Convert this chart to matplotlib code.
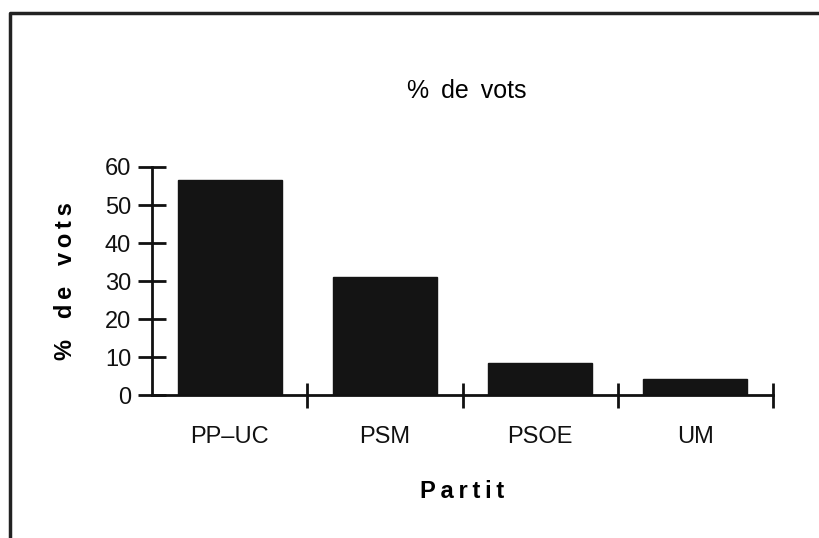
import matplotlib.pyplot as plt
from matplotlib.lines import Line2D

partits = ['PP–UC', 'PSM', 'PSOE', 'UM']
vots = [56.6, 31.0, 8.5, 4.3]
y_ticks = [0, 10, 20, 30, 40, 50, 60]

plt.rcParams['font.family'] = ['Liberation Sans', 'DejaVu Sans']

W, H = 819, 538
fig = plt.figure(figsize=(W / 100, H / 100), dpi=100)
ax = fig.add_axes([152 / W, 143 / H, 621 / W, 228 / H])

x = range(len(partits))
ax.bar(x, vots, width=0.67, color='#141414', edgecolor='#141414')

ax.set_xlim(-0.5, len(partits) - 0.5)
ax.set_ylim(0, 60)
ax.set_yticks(y_ticks)
ax.set_xticks(list(x))
ax.set_xticklabels(partits, fontsize=17)
ax.set_xticks([i + 0.5 for i in x], minor=True)

for s in ['top', 'right']:
    ax.spines[s].set_visible(False)
for s in ['left', 'bottom']:
    ax.spines[s].set_linewidth(2)
    ax.spines[s].set_color('#111')

ax.tick_params(axis='y', direction='inout', length=20, width=2, labelsize=17, pad=5, colors='#111')
ax.tick_params(axis='x', which='major', length=0, pad=22, colors='#111')
ax.tick_params(axis='x', which='minor', direction='inout', length=18, width=2, colors='#111')

sp = '\u2009'
ax.set_ylabel(sp.join('% de vots').replace(' ', ' \u2009'), fontsize=17, fontweight='bold', labelpad=20)
ax.set_xlabel(sp.join('Partit'), fontsize=17, fontweight='bold', labelpad=23)

fig.text(467 / W, 1 - 91 / H, '%\u2009 de\u2009 vots', fontsize=18, ha='center', va='center')

# border frame, cut at the right and bottom of the scan
fig.add_artist(Line2D([10 / W, 10 / W, 1], [0, 1 - 13 / H, 1 - 13 / H],
                      color='#222', linewidth=2.5, transform=fig.transFigure))

fig.savefig('out.png', dpi=100)
